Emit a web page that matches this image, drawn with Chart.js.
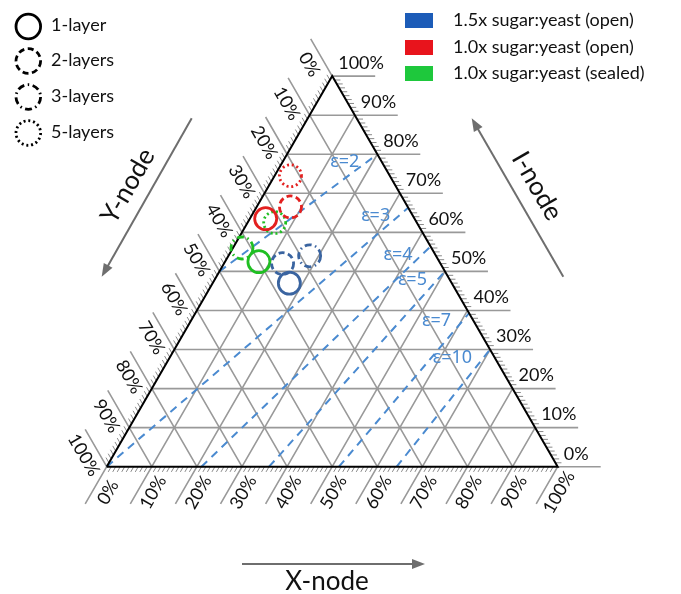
<!DOCTYPE html>
<html>
<head>
<meta charset="utf-8">
<script src="https://cdn.jsdelivr.net/npm/chart.js@4.4.1/dist/chart.umd.min.js"></script>
<style>
  html, body { margin: 0; padding: 0; background: #ffffff; }
  #wrap { width: 681px; height: 594px; }
</style>
</head>
<body>
<div id="wrap"><canvas id="chart" width="681" height="594"></canvas></div>
<script>
// ---- data -------------------------------------------------------------
const seriesLabels = ['1.5x sugar:yeast (open)', '1.0x sugar:yeast (open)', '1.0x sugar:yeast (sealed)'];
const layerLabels = ['1-layer', '2-layers', '3-layers', '5-layers'];
const layerCounts = [1, 2, 3, 5];

// one entry per sample: series index, number of layers, composition in %
const sampleSeries = [0, 0, 0, 1, 1, 1, 2, 2, 2];
const sampleLayers = [1, 2, 3, 1, 2, 5, 1, 3, 5];
const sampleX = [17, 13, 18, 3.5, 7.5, 3.5, 7.5, 2, 6];
const sampleY = [36, 35, 28, 33, 26, 22, 40, 42, 31.5];
const sampleI = [47, 52, 54, 63.5, 66.5, 74.5, 52.5, 56, 62.5];

// iso-epsilon guide lines: low end (X %, I %) and high end on the Y = 0 side (I %)
const epsValues = [2, 3, 4, 5, 7, 10];
const epsStartX = [0, 0, 21, 36, 51.5, 64.3];
const epsStartI = [50, 0, 0, 0, 0, 0];
const epsEndI = [80, 66.3, 56.4, 50, 39.3, 30];

// axis ticks
const tickValues = [0, 10, 20, 30, 40, 50, 60, 70, 80, 90, 100];
const tickLabels = ['0%', '10%', '20%', '30%', '40%', '50%', '60%', '70%', '80%', '90%', '100%'];
const minorStep = 1;

// ---- layout -----------------------------------------------------------
const W = 681, H = 594;
const SIDE = 451;                       // triangle side, px
const ORIGIN = { x: 106.7, y: 466.7 };  // Y-node corner, px
const H3 = Math.sqrt(3) / 2;
const EXT = 43 / SIDE;                  // length of the major tick extensions
const TICK = 6 / SIDE;                  // length of the minor ticks

const seriesColors = ['#3a64a0', '#e3201f', '#1fbf22'];
const legendColors = ['#1c5cb8', '#e8141c', '#1ec83c'];
const layerDash = { 1: [], 2: [6, 3.5], 3: [7, 3.5, 1.5, 3.5], 5: [2, 2.8] };
const epsColor = '#4a8ad0';
const FONT = 'Lato, "Liberation Sans", sans-serif';

// ternary (X %, I %) -> cartesian, triangle side = 1
function tern(X, I) {
  return { x: X / 100 + I / 200, y: (I / 100) * H3 };
}
function shift(p, dx, dy, len) {
  return { x: p.x + dx * len, y: p.y + dy * len };
}
const gap = () => ({ x: null, y: null });

// inner grid lines
const gridPts = [];
tickValues.filter(v => v > 0 && v < 100).forEach(v => {
  gridPts.push(tern(0, v), tern(100 - v, v), gap());       // constant I
  gridPts.push(tern(v, 0), tern(v, 100 - v), gap());       // constant X
  gridPts.push(tern(0, 100 - v), tern(100 - v, 0), gap()); // constant Y
});

// major extensions outside the triangle
const extPts = [];
tickValues.forEach(v => {
  const r = tern(100 - v, v); extPts.push(r, shift(r, 1, 0, EXT), gap());
  const b = tern(v, 0);       extPts.push(b, shift(b, -0.5, -H3, EXT), gap());
  const l = tern(0, 100 - v); extPts.push(l, shift(l, -0.5, H3, EXT), gap());
});

// minor ticks
const tickPts = [];
for (let v = minorStep; v < 100; v += minorStep) {
  if (v % 10 === 0) continue;
  const r = tern(100 - v, v); tickPts.push(r, shift(r, 1, 0, TICK), gap());
  const b = tern(v, 0);       tickPts.push(b, shift(b, -0.5, -H3, TICK), gap());
  const l = tern(0, 100 - v); tickPts.push(l, shift(l, -0.5, H3, TICK), gap());
}

const edgePts = [tern(0, 0), tern(100, 0), tern(0, 100), tern(0, 0)];

const datasets = [];
datasets.push({ data: gridPts, showLine: true, borderColor: '#999999', borderWidth: 1.6, pointRadius: 0, order: 5 });
datasets.push({ data: extPts, showLine: true, borderColor: '#999999', borderWidth: 1.6, pointRadius: 0, order: 5 });
datasets.push({ data: tickPts, showLine: true, borderColor: '#8a8a8a', borderWidth: 1, pointRadius: 0, order: 5 });
epsValues.forEach((e, i) => {
  datasets.push({
    data: [tern(epsStartX[i], epsStartI[i]), tern(100 - epsEndI[i], epsEndI[i])],
    showLine: true, borderColor: epsColor, borderWidth: 2, borderDash: [8, 6],
    pointRadius: 0, order: 4
  });
});
datasets.push({ data: edgePts, showLine: true, borderColor: '#000000', borderWidth: 2, pointRadius: 0, order: 3 });
sampleX.forEach((x, i) => {
  datasets.push({
    data: [tern(x, sampleI[i])],
    pointRadius: 11, pointBorderWidth: 2.8,
    pointBorderColor: seriesColors[sampleSeries[i]],
    pointBackgroundColor: 'rgba(0,0,0,0)',
    circleDash: layerDash[sampleLayers[i]],
    order: 1
  });
});

// dashed outlines for point markers
const circleDash = {
  id: 'circleDash',
  beforeDatasetDraw(chart, args) {
    const ds = chart.data.datasets[args.index];
    chart.ctx.save();
    if (ds.circleDash) chart.ctx.setLineDash(ds.circleDash);
  },
  afterDatasetDraw(chart) { chart.ctx.restore(); }
};

function arrow(ctx, x0, y0, x1, y1) {
  const a = Math.atan2(y1 - y0, x1 - x0), L = 13, w = 5;
  ctx.beginPath(); ctx.moveTo(x0, y0);
  ctx.lineTo(x1 - Math.cos(a) * L * 0.8, y1 - Math.sin(a) * L * 0.8); ctx.stroke();
  ctx.beginPath();
  ctx.moveTo(x1, y1);
  ctx.lineTo(x1 - Math.cos(a) * L - Math.sin(a) * w, y1 - Math.sin(a) * L + Math.cos(a) * w);
  ctx.lineTo(x1 - Math.cos(a) * L + Math.sin(a) * w, y1 - Math.sin(a) * L - Math.cos(a) * w);
  ctx.closePath(); ctx.fill();
}
function rotText(ctx, txt, x, y, ang) {
  ctx.save(); ctx.translate(x, y); ctx.rotate(ang);
  ctx.textAlign = 'center'; ctx.textBaseline = 'middle';
  ctx.fillText(txt, 0, 0); ctx.restore();
}

// labels, titles and legends
const decor = {
  id: 'decor',
  afterDatasetsDraw(chart) {
    const ctx = chart.ctx, sx = chart.scales.x, sy = chart.scales.y;
    const px = p => ({ x: sx.getPixelForValue(p.x), y: sy.getPixelForValue(p.y) });
    const half = EXT * SIDE / 2, off = 14;
    ctx.save();
    ctx.fillStyle = '#111111';
    ctx.font = '18px ' + FONT;
    tickValues.forEach((v, k) => {
      // I-node, right side
      const r = px(tern(100 - v, v));
      ctx.textAlign = 'left'; ctx.textBaseline = 'middle';
      ctx.fillText(tickLabels[k], r.x + 6, r.y - 13);
      // X-node, bottom
      const b = px(tern(v, 0));
      rotText(ctx, tickLabels[k], b.x - 0.5 * half + 0.866 * off, b.y + H3 * half + 0.5 * off, -Math.PI / 3);
      // Y-node, left side
      const l = px(tern(0, 100 - v));
      rotText(ctx, tickLabels[k], l.x - 0.5 * half - 0.866 * off, l.y - H3 * half + 0.5 * off, Math.PI / 3);
    });

    // epsilon labels
    ctx.fillStyle = epsColor;
    ctx.font = '18px "Noto Sans", "Liberation Sans", sans-serif';
    ctx.textAlign = 'right'; ctx.textBaseline = 'middle';
    epsValues.forEach((e, i) => {
      const p = px(tern(100 - epsEndI[i], epsEndI[i]));
      ctx.fillText('\u03b5=' + e, p.x - 18, p.y + 8);
    });

    // node titles with arrows
    ctx.fillStyle = '#6e6e6e'; ctx.strokeStyle = '#6e6e6e'; ctx.lineWidth = 2;
    arrow(ctx, 242, 564, 425, 564);
    arrow(ctx, 191.7, 118.3, 101.7, 276.7);
    arrow(ctx, 563.3, 276.7, 471.7, 118.3);
    ctx.fillStyle = '#111111';
    ctx.font = '26px ' + FONT;
    ctx.textAlign = 'center'; ctx.textBaseline = 'middle';
    ctx.fillText('X-node', 327, 582);
    rotText(ctx, 'Y-node', 128, 186, -Math.PI / 3);
    rotText(ctx, 'I-node', 537, 186, Math.PI / 3);

    // layer legend
    ctx.font = '18px ' + FONT;
    const ly = [26.5, 61, 97, 133];
    layerLabels.forEach((lab, i) => {
      ctx.save();
      ctx.strokeStyle = '#000000'; ctx.lineWidth = 2.8;
      ctx.setLineDash(layerDash[layerCounts[i]]);
      ctx.beginPath(); ctx.arc(28.3, ly[i], 12.3, 0, Math.PI * 2); ctx.stroke();
      ctx.restore();
      ctx.fillStyle = '#111111'; ctx.textAlign = 'left'; ctx.textBaseline = 'middle';
      ctx.fillText(lab, 51, ly[i] - 1);
    });

    // series legend
    const sy0 = [20.5, 47.5, 73.5];
    seriesLabels.forEach((lab, i) => {
      ctx.fillStyle = legendColors[i];
      ctx.fillRect(405, sy0[i] - 7.5, 28, 15);
      ctx.fillStyle = '#111111'; ctx.textAlign = 'left'; ctx.textBaseline = 'middle';
      ctx.fillText(lab, 453, sy0[i]);
    });
    ctx.restore();
  }
};

new Chart(document.getElementById('chart'), {
  type: 'scatter',
  data: { datasets },
  options: {
    responsive: false,
    animation: false,
    layout: { padding: 0, autoPadding: false },
    scales: {
      x: { type: 'linear', display: false, min: -ORIGIN.x / SIDE, max: (W - ORIGIN.x) / SIDE },
      y: { type: 'linear', display: false, min: -(H - ORIGIN.y) / SIDE, max: ORIGIN.y / SIDE }
    },
    plugins: { legend: { display: false }, tooltip: { enabled: false } }
  },
  plugins: [circleDash, decor]
});
</script>
</body>
</html>
